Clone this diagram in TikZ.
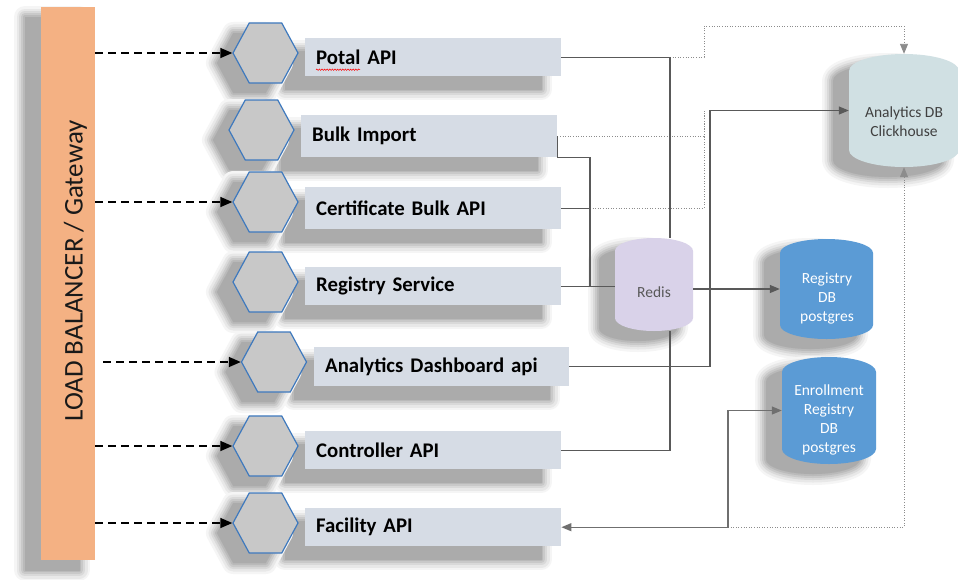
\documentclass[tikz,border=0pt]{standalone}
\usepackage{fontspec}
\setmainfont{Carlito}
\usetikzlibrary{shapes.geometric,arrows.meta,decorations.pathmorphing,calc}
\definecolor{lborange}{HTML}{F4B183}
\definecolor{boxfill}{HTML}{D6DCE5}
\definecolor{hexfill}{HTML}{C8C8C8}
\definecolor{hexline}{HTML}{3E79BE}
\definecolor{redisfill}{HTML}{D9D2E9}
\definecolor{pgfill}{HTML}{5B9BD5}
\definecolor{chfill}{HTML}{D0E0E3}
\definecolor{connc}{HTML}{595959}
\definecolor{fconnc}{HTML}{6F6F6F}
\definecolor{dotc}{HTML}{8C8C8C}
\definecolor{dbtextc}{HTML}{404040}
\begin{document}
\begin{tikzpicture}[x=1pt,y=-1pt,
  shlayer/.style n args={4}{preaction={draw=#4,fill=#4,line width=#1,line join=round,transform canvas={xshift=#2,yshift=#3}}},
  shadowat/.style 2 args={shlayer={22pt}{#1}{#2}{black!4},shlayer={17pt}{#1}{#2}{black!9},shlayer={12pt}{#1}{#2}{black!15},shlayer={8pt}{#1}{#2}{black!21},shlayer={4pt}{#1}{#2}{black!27},shlayer={0.1pt}{#1}{#2}{black!33}},
  softshadow/.style={shadowat={-16pt}{-10pt}},
  boxshadow/.style={shadowat={-20pt}{-13pt}},
  svcbox/.style={rectangle,fill=boxfill,minimum height=38pt,text width=234pt,inner xsep=11pt,inner ysep=0pt,align=left,anchor=north west,font=\fontsize{20.8}{24}\selectfont\bfseries,text=black,boxshadow},
  hexnode/.style={regular polygon,regular polygon sides=6,minimum size=65pt,inner sep=0pt,yscale=1.066,fill=hexfill,draw=hexline,line width=1.2pt,softshadow},
  anchorbox/.style={rectangle,inner sep=0pt},
  dbtext/.style={align=center,font=\fontsize{15.5}{19}\selectfont},
  conn/.style={draw=connc,line width=1.2pt},
  fconn/.style={draw=fconnc,line width=1.2pt},
  dotline/.style={draw=dotc,line width=0.9pt,dash pattern=on 1pt off 1.6pt},
  gtip/.style={-{Triangle[length=10pt,width=8pt]}},
  lbarrow/.style={draw=black,line width=1.5pt,dash pattern=on 8pt off 5pt,-{Triangle[length=12pt,width=10pt]}}
]
\useasboundingbox (0,0) rectangle (958,579);
\fill[white] (0,0) rectangle (958,579);

% Load balancer
\node[rectangle,fill=lborange,minimum width=54pt,minimum height=553pt,inner sep=0pt,softshadow] (lb) at (68,283.5) {};
\node[rotate=90,anchor=base,font=\fontsize{27}{32}\selectfont,text=black!90] (lbtext) at (82.5,271) {LOAD BALANCER / Gateway};

% service boxes
\node[svcbox] (pot) at (305,38) {Potal API};
\node[svcbox,minimum height=42pt] (blk) at (301,115) {Bulk Import};
\node[svcbox,minimum height=42pt] (cert) at (305,187) {Certificate Bulk API};
\node[svcbox] (reg) at (305,267) {Registry Service};
\node[svcbox,minimum height=39pt,text width=233pt] (adash) at (314,347) {Analytics Dashboard api};
\node[svcbox] (ctrl) at (305,431) {Controller API};
\node[svcbox] (fac) at (305,508) {Facility API};

\draw[red,line width=0.5pt,decorate,decoration={snake,amplitude=0.7pt,segment length=2.6pt}]
  ([shift={(11pt,-12.5pt)}]pot.west) -- ([shift={(55pt,-12.5pt)}]pot.west);

% hexagons
\node[hexnode] (hex1) at (265.5,53) {};
\node[hexnode] (hex2) at (261.5,130) {};
\node[hexnode] (hex3) at (265.5,202) {};
\node[hexnode] (hex4) at (265.5,282) {};
\node[hexnode] (hex5) at (274,362) {};
\node[hexnode] (hex6) at (265.5,446) {};
\node[hexnode] (hex7) at (265.5,523) {};

% cylinders
\fill[redisfill,softshadow] (615,251) arc[start angle=180,end angle=0,x radius=39pt,y radius=13pt] -- (693,318) arc[start angle=0,end angle=-180,x radius=39pt,y radius=13pt] -- cycle;
\node[anchorbox,minimum width=78pt,minimum height=93pt] (redis) at (654,284.5) {};
\node[dbtext,text=connc] (redistext) at (654,292) {Redis};

\fill[pgfill,softshadow] (780,253) arc[start angle=180,end angle=0,x radius=46.5pt,y radius=14pt] -- (873,325) arc[start angle=0,end angle=-180,x radius=46.5pt,y radius=14pt] -- cycle;
\node[anchorbox,minimum width=93pt,minimum height=100pt] (regdb) at (826.5,289) {};
\node[dbtext,text=white] (regdbtext) at (827,298.5) {Registry\\DB\\postgres};

\fill[pgfill,softshadow] (782,372) arc[start angle=180,end angle=0,x radius=47pt,y radius=15pt] -- (876,449) arc[start angle=0,end angle=-180,x radius=47pt,y radius=15pt] -- cycle;
\node[anchorbox,minimum width=94pt,minimum height=107pt] (enrdb) at (829,410.5) {};
\node[dbtext,text=white] (enrdbtext) at (829,420) {Enrollment\\Registry\\DB\\postgres};

\fill[chfill,softshadow] (849,71) arc[start angle=180,end angle=0,x radius=55pt,y radius=17pt] -- (959,150) arc[start angle=0,end angle=-180,x radius=55pt,y radius=17pt] -- cycle;
\node[anchorbox,minimum width=110pt,minimum height=113pt] (chdb) at (904,110.5) {};
\node[dbtext,text=dbtextc] (chdbtext) at (904,121.5) {Analytics DB\\Clickhouse};

% bus coordinates
\coordinate (xa) at (590,0);
\coordinate (xb) at (670,0);
\coordinate (xc) at (704,0);
\coordinate (xd) at (710,0);
\coordinate (xe) at (728,0);
\coordinate (ytop) at (0,26);
\coordinate (lbx) at ([xshift=8pt]lb.east);

% dashed arrows from load balancer
\draw[lbarrow] (lb.east |- hex1.west) -- (hex1.west);
\draw[lbarrow] (lb.east |- hex3.west) -- (hex3.west);
\draw[lbarrow] (lbx |- hex5.west) -- (hex5.west);
\draw[lbarrow] (lb.east |- hex6.west) -- (hex6.west);
\draw[lbarrow] (lb.east |- hex7.west) -- (hex7.west);

% dotted connectors
\draw[dotline,gtip] (xb |- pot.east) -| (xc |- ytop) -| (chdb.north);
\draw[dotline] (blk.east) -| (xc |- chdb.west);
\draw[dotline] (cert.east) -| (xc |- chdb.west);
\draw[dotline,gtip] (xe |- fac.east) -| (chdb.south);

% solid connectors
\draw[conn] (pot.east) -| (xb |- redis.north);
\draw[conn] (blk.east) -- (blk.south east) -| (xa |- reg.east);
\draw[conn] (cert.east) -- (xa |- cert.east);
\draw[conn] (reg.east) -- (redis.west |- reg.east);
\draw[conn,gtip] (redis.east |- regdb.west) -- (regdb.west);
\draw[conn,gtip] (adash.east) -| (xd |- chdb.west) -- (chdb.west);
\draw[conn] (ctrl.east) -| (xb |- redis.south);
\draw[fconn,{Triangle[length=10pt,width=8pt]}-{Triangle[length=10pt,width=8pt]}] (fac.east) -| (xe |- enrdb.west) -- (enrdb.west);
\end{tikzpicture}
\end{document}
